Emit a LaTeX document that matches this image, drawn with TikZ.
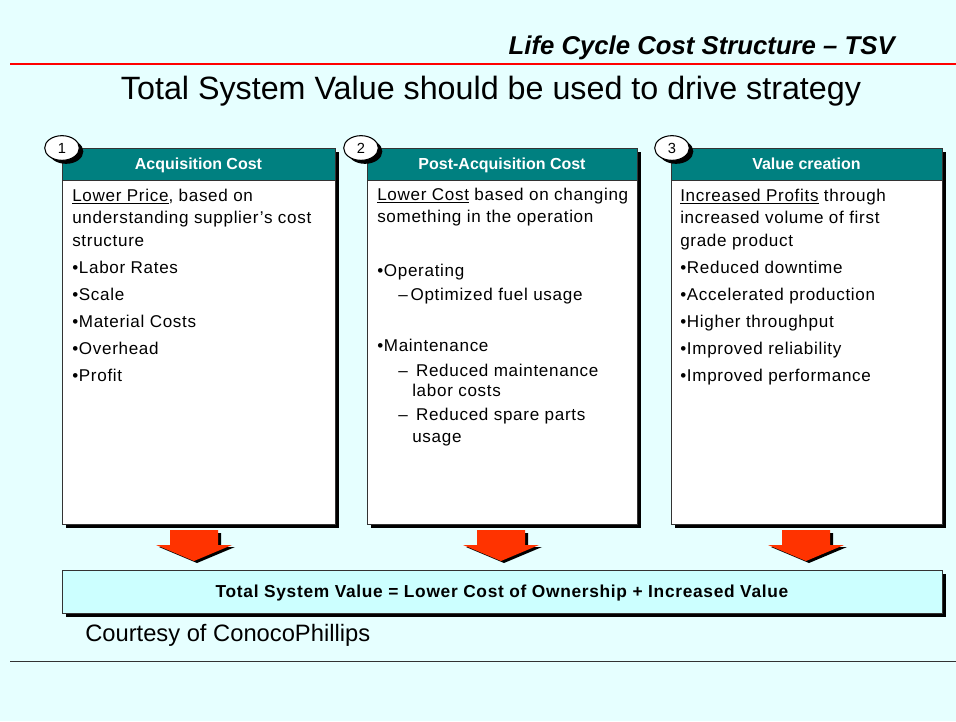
\documentclass[tikz,border=0pt]{standalone}
\usepackage{fontspec}
\setmainfont{Liberation Sans}
\newfontfamily\spaced[LetterSpace=4]{Liberation Sans}
\usetikzlibrary{shapes.geometric}
\definecolor{bgc}{HTML}{E6FFFF}
\definecolor{teal}{HTML}{008080}
\definecolor{arrowred}{HTML}{FF3300}
\definecolor{totfill}{HTML}{CCFFFF}
\begin{document}
\begin{tikzpicture}[x=0.75pt,y=-0.75pt,
  body/.style={anchor=base west,inner sep=0pt,font=\spaced\fontsize{12.8}{14}\selectfont},
  hdr/.style={anchor=base,inner sep=0pt,text=white,font=\bfseries\fontsize{12}{14}\selectfont},
  numc/.style={ellipse,draw=black,fill=white,line width=0.8pt,minimum width=26pt,minimum height=18.5pt,inner sep=0pt,font=\fontsize{11}{12}\selectfont},
  numshadow/.style={ellipse,fill=black,minimum width=26pt,minimum height=18.5pt,inner sep=0pt}]
\useasboundingbox (0,0) rectangle (956,721);
\fill[bgc] (0,0) rectangle (956,721);
% top header
\node[anchor=base east,inner sep=0pt,font=\bfseries\itshape\fontsize{19.3}{22}\selectfont] (hd) at (895,54) {Life Cycle Cost Structure -- TSV};
\draw[red,line width=0.8pt] (10,64) -- (956,64);
\node[anchor=base,inner sep=0pt,font=\fontsize{24.2}{28}\selectfont] (title) at (491,99) {Total System Value should be used to drive strategy};
% boxes
\foreach \xa/\xb in {62/335,367/637,671/942}{
  \fill[black] (\xa+4,152) rectangle (\xb+4,528);
  \filldraw[fill=white,draw=black!80,line width=0.6pt] (\xa,180) rectangle (\xb,524);
  \filldraw[fill=teal,draw=black!80,line width=0.6pt] (\xa,148) rectangle (\xb,180);
}
\node[hdr] (h1) at (198.5,169) {Acquisition Cost};
\node[hdr] (h2) at (502,169) {Post-Acquisition Cost};
\node[hdr] (h3) at (806.5,169) {Value creation};
% number circles
\node[numshadow] (s1) at (66,151.5) {};
\node[numshadow] (s2) at (365,151.5) {};
\node[numshadow] (s3) at (676,151.5) {};
\node[numc] (c1) at (62,148) {1};
\node[numc] (c2) at (361,148) {2};
\node[numc] (c3) at (672,148) {3};
% box 1 text
\node[body] (a1) at (72,201) {\underline{Lower Price}, based on};
\node[body] (a2) at (72,223) {understanding supplier’s cost};
\node[body] (a3) at (72,246) {structure};
\node[body] (a4) at (72,273) {•Labor Rates};
\node[body] (a5) at (72,300) {•Scale};
\node[body] (a6) at (72,327) {•Material Costs};
\node[body] (a7) at (72,354) {•Overhead};
\node[body] (a8) at (72,381) {•Profit};
% box 2 text
\node[body] (b1) at (377,200) {\underline{Lower Cost} based on changing};
\node[body] (b2) at (377,222) {something in the operation};
\node[body] (b3) at (377,276) {•Operating};
\node[body] (b4) at (398,300) {–\,Optimized fuel usage};
\node[body] (b5) at (377,351) {•Maintenance};
\node[body] (b6) at (398,376) {–\ \,Reduced maintenance};
\node[body] (b7) at (412,396) {labor costs};
\node[body] (b8) at (398,420) {–\ \,Reduced spare parts};
\node[body] (b9) at (412,442) {usage};
% box 3 text
\node[body] (d1) at (680,201) {\underline{Increased Profits} through};
\node[body] (d2) at (680,223) {increased volume of first};
\node[body] (d3) at (680,246) {grade product};
\node[body] (d4) at (680,273) {•Reduced downtime};
\node[body] (d5) at (680,300) {•Accelerated production};
\node[body] (d6) at (680,327) {•Higher throughput};
\node[body] (d7) at (680,354) {•Improved reliability};
\node[body] (d8) at (680,381) {•Improved performance};
% arrows
\foreach \cx in {194,501,806}{
  \fill[black] (\cx-21,533) -- (\cx+27,533) -- (\cx+27,547) -- (\cx+41,547) -- (\cx+3,563) -- (\cx-35,547) -- (\cx-21,547) -- cycle;
  \fill[arrowred] (\cx-24,530) -- (\cx+24,530) -- (\cx+24,545) -- (\cx+38,545) -- (\cx,561) -- (\cx-38,545) -- (\cx-24,545) -- cycle;
}
% total box
\fill[black] (66,574) rectangle (946,617);
\filldraw[fill=totfill,draw=black!80,line width=0.6pt] (62,570) rectangle (942,613);
\node[inner sep=0pt,anchor=base,font=\spaced\bfseries\fontsize{13}{15}\selectfont] (tot) at (502,597) {Total System Value = Lower Cost of Ownership + Increased Value};
\node[anchor=base west,inner sep=0pt,font=\fontsize{17.8}{20}\selectfont] (court) at (85,641) {Courtesy of ConocoPhillips};
\draw[black!80,line width=0.6pt] (10,661) -- (956,661);
\end{tikzpicture}
\end{document}
